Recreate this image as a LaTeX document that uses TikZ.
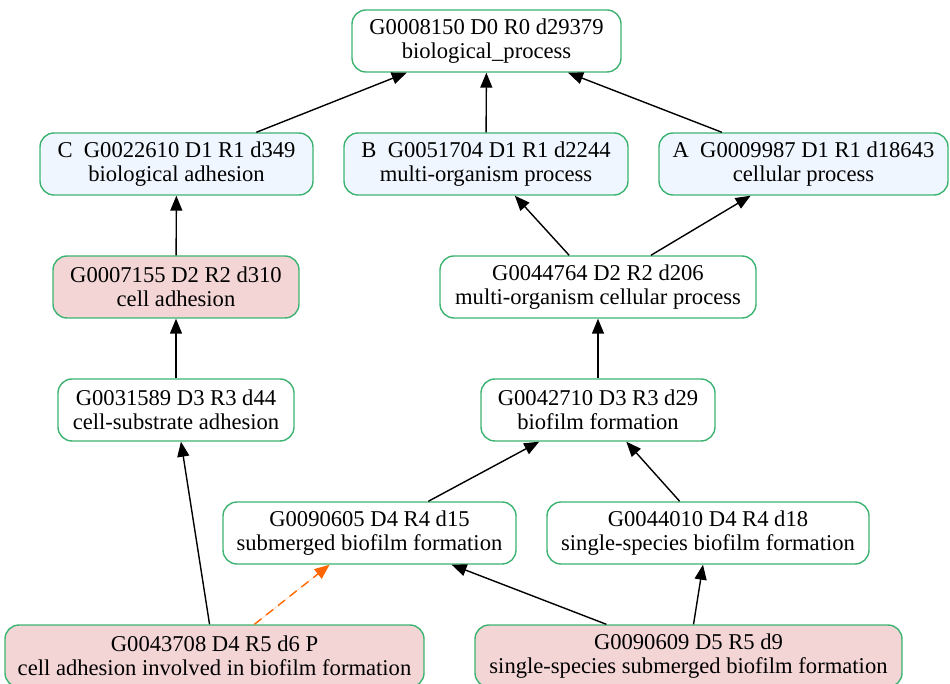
\documentclass[tikz,border=0pt]{standalone}
\usepackage{fontspec}
\setmainfont{Liberation Serif}
\usetikzlibrary{arrows.meta}
\definecolor{bordergreen}{RGB}{60,179,113}
\definecolor{bluefill}{RGB}{240,246,255}
\definecolor{pinkfill}{RGB}{243,213,214}
\definecolor{dashorange}{RGB}{255,102,0}
\tikzset{
  gonode/.style={draw=bordergreen, line width=1.4pt, rounded corners=14pt, fill=white,
    minimum height=62pt, inner sep=0pt, align=center,
    font=\fontsize{22.6}{23.5}\selectfont},
  bluenode/.style={gonode, fill=bluefill},
  pinknode/.style={gonode, fill=pinkfill},
  edge/.style={line width=1.4pt, -{Triangle[length=15pt,width=12pt]}, shorten >=0pt},
  dashedge/.style={edge, draw=dashorange, fill=dashorange, dash pattern=on 9pt off 6pt}
}
\begin{document}
\begin{tikzpicture}[x=1pt,y=-1pt]
\useasboundingbox (0,0) rectangle (950,684);
\node[gonode, minimum width=269pt] (top) at (486.5,41) {G0008150 D0 R0 d29379\\biological\_process};
\node[bluenode, minimum width=273pt] (c) at (176.5,164) {C~\ G0022610 D1 R1 d349\\biological adhesion};
\node[bluenode, minimum width=284pt] (b) at (486,164) {B~\ G0051704 D1 R1 d2244\\multi-organism process};
\node[bluenode, minimum width=289pt] (a) at (803.5,164) {A~\ G0009987 D1 R1 d18643\\cellular process};
\node[pinknode, minimum width=246pt] (n7155) at (176,287) {G0007155 D2 R2 d310\\cell adhesion};
\node[gonode, minimum width=316pt] (n44764) at (598,287) {G0044764 D2 R2 d206\\multi-organism cellular process};
\node[gonode, minimum width=236pt] (n31589) at (176,410) {G0031589 D3 R3 d44\\cell-substrate adhesion};
\node[gonode, minimum width=234pt] (n42710) at (598,410) {G0042710 D3 R3 d29\\biofilm formation};
\node[gonode, minimum width=293pt] (n90605) at (369.5,533) {G0090605 D4 R4 d15\\submerged biofilm formation};
\node[gonode, minimum width=322pt] (n44010) at (708,533) {G0044010 D4 R4 d18\\single-species biofilm formation};
\node[pinknode, minimum width=419pt] (n43708) at (214.5,656) {G0043708 D4 R5 d6 P\\cell adhesion involved in biofilm formation};
\node[pinknode, minimum width=427pt] (n90609) at (688.5,656) {G0090609 D5 R5 d9\\single-species submerged biofilm formation};

\draw[edge] (c) -- (top);
\draw[edge] (b) -- (top);
\draw[edge] (a) -- (top);
\draw[edge] (n7155) -- (c);
\draw[edge] (n44764) -- (b);
\draw[edge] (n44764) -- (a);
\draw[edge] (n31589) -- (n7155);
\draw[edge] (n42710) -- (n44764);
\draw[edge] (n90605) -- (n42710);
\draw[edge] (n44010) -- (n42710);
\draw[edge] (n43708) -- (n31589);
\draw[dashedge] (n43708) -- (n90605);
\draw[edge] (n90609) -- (n90605);
\draw[edge] (n90609) -- (n44010);
\end{tikzpicture}
\end{document}
